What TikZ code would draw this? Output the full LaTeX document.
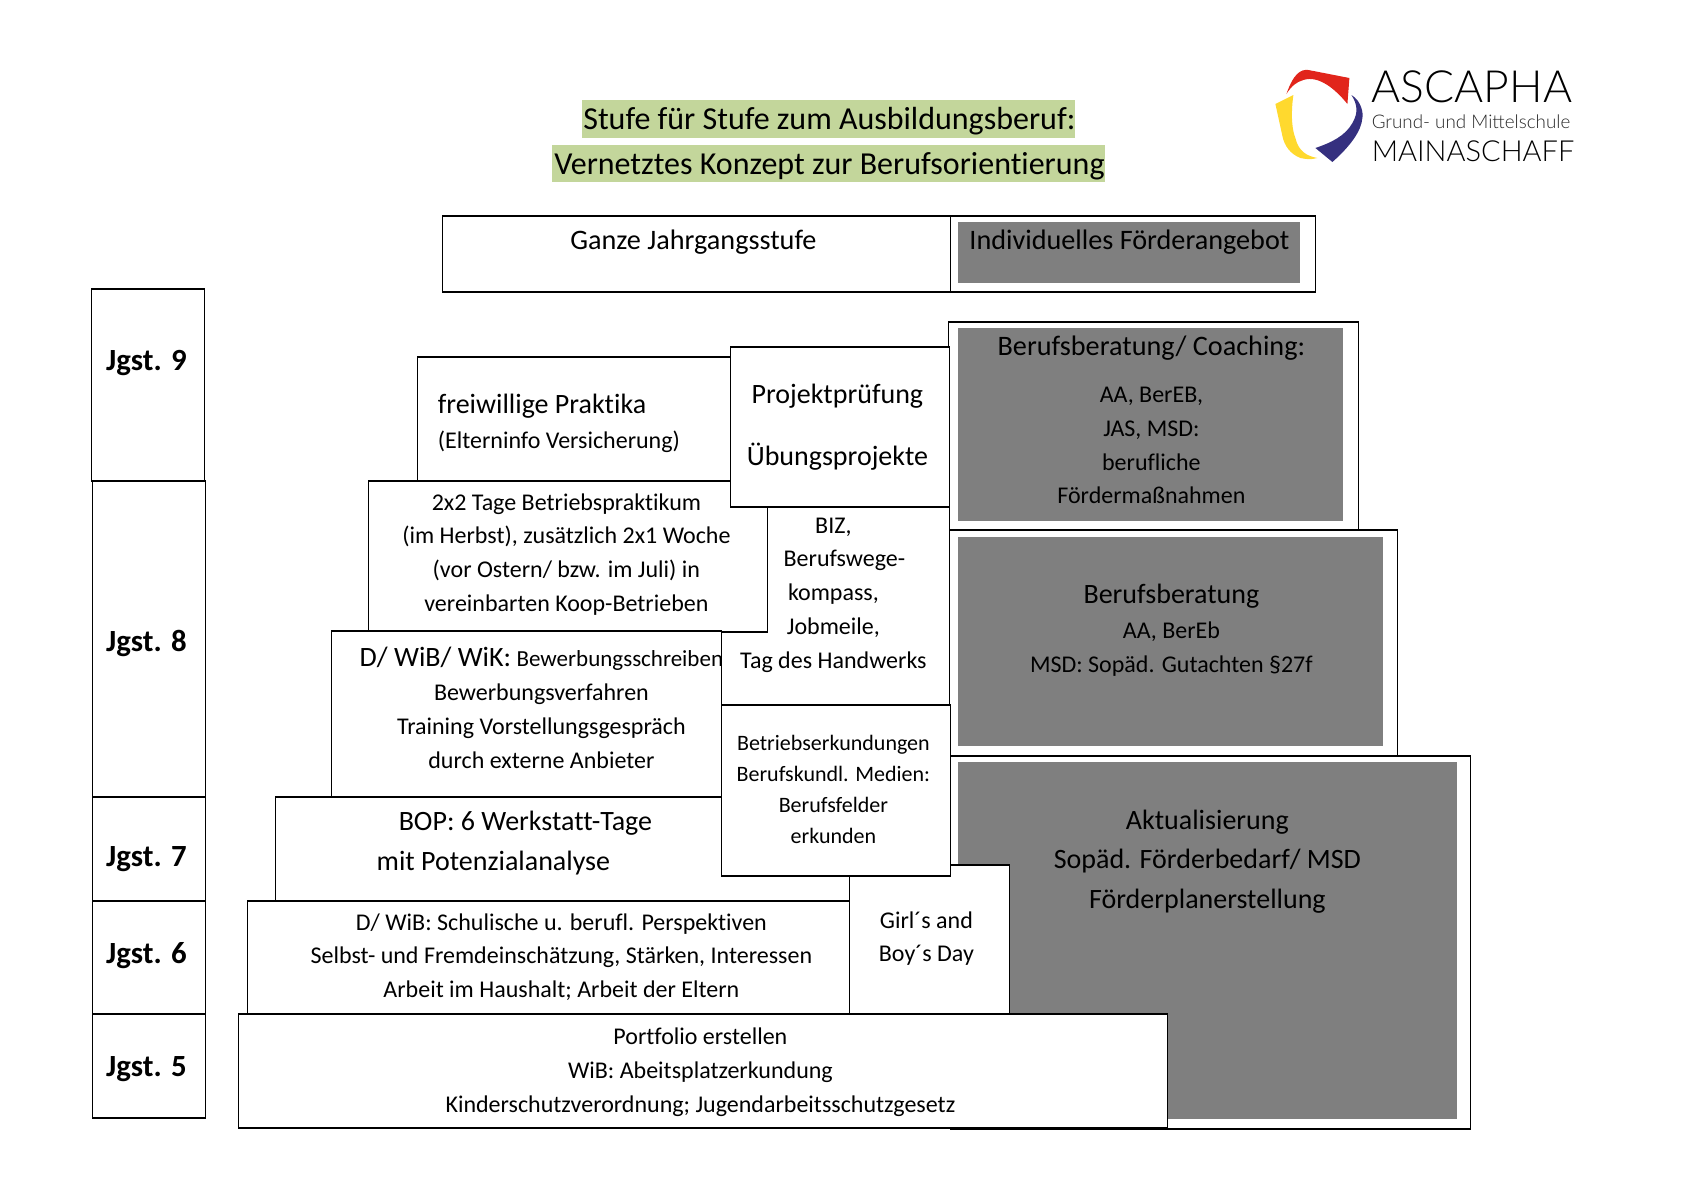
\documentclass[tikz,border=0pt]{standalone}
\usepackage{fontspec}
\setmainfont[Ligatures=NoCommon]{Carlito}
\newfontfamily\logofont{Lato Light}
\definecolor{titlegreen}{HTML}{C3D69B}
\definecolor{boxgray}{HTML}{7F7F7F}
\definecolor{logored}{HTML}{E1251B}
\definecolor{logoyellow}{HTML}{FFD92E}
\definecolor{logoblue}{HTML}{35307F}
\tikzset{
	stufe/.style={draw=black, fill=white, line width=0.9pt},
	grau/.style={fill=boxgray},
	klein/.style={align=center, inner sep=0pt, font=\fontsize{12}{16.9}\selectfont},
	winzig/.style={align=center, inner sep=0pt, font=\fontsize{11}{15.5}\selectfont},
	mittel/.style={align=center, inner sep=0pt, font=\fontsize{14}{19.8}\selectfont},
	jgst/.style={inner sep=0pt, font=\fontsize{15.4}{17}\selectfont\bfseries},
	titel/.style={inner sep=0pt, font=\fontsize{16}{18}\selectfont},
	kopf/.style={inner sep=0pt, font=\fontsize{14.1}{16}\selectfont}
}
\begin{document}
\begin{tikzpicture}[x=0.5pt,y=-0.5pt]
	\useasboundingbox (-0.4,-1) rectangle (1682.6,1189);
	% title
	\fill[titlegreen] (582,99) rectangle (1075,137);
	\fill[titlegreen] (552,144) rectangle (1105,181);
	\node[titel] (titelA) at (829,120) {Stufe für Stufe zum Ausbildungsberuf:};
	\node[titel] (titelB) at (829,165) {Vernetztes Konzept zur Berufsorientierung};
	% logo
	\fill[logored] (1286,93) .. controls (1293,73) and (1300,68) .. (1308,69) -- (1349,77) -- (1347,103) .. controls (1335,88) and (1318,74) .. (1303,79) .. controls (1296,81) and (1291,85) .. (1286,93) -- cycle;
	\fill[logoyellow] (1275,103) -- (1293,94) .. controls (1290,115) and (1292,130) .. (1295,137) .. controls (1298,150) and (1306,155) .. (1317,157) .. controls (1310,159) and (1305,158) .. (1300,157) .. controls (1290,153) and (1284,145) .. (1282,135) -- cycle;
	\fill[logoblue] (1351,94) .. controls (1361,100) and (1363,112) .. (1362,117) .. controls (1361,130) and (1350,145) .. (1332,161) -- (1315,147) .. controls (1330,142) and (1345,135) .. (1352,122) .. controls (1358,112) and (1357,103) .. (1351,94) -- cycle;
	\node[anchor=base west, inner sep=0pt, font=\logofont\fontsize{22.2}{24}\selectfont] (logoA) at (1371,101) {ASCAPHA};
	\node[anchor=base west, inner sep=0pt, font=\logofont\fontsize{9.4}{12}\selectfont, text=black!85] (logoB) at (1371,127) {Grund- und Mittelschule};
	\node[anchor=base west, inner sep=0pt, font=\logofont\fontsize{14.5}{16}\selectfont] (logoC) at (1371,160) {MAINASCHAFF};
	% legend
	\draw[stufe] (442,215) rectangle (950,291);
	\draw[stufe] (950,215) rectangle (1315,291);
	\fill[grau] (958,221) rectangle (1300,282);
	\node[kopf] (ganze) at (693,241) {Ganze Jahrgangsstufe};
	\node[kopf] (indiv) at (1129,241) {Individuelles Förderangebot};
	% year column
	\draw[stufe] (91,288) rectangle (204,480);
	\draw[stufe] (92,480) rectangle (205,796);
	\draw[stufe] (92,796) rectangle (205,900);
	\draw[stufe] (92,900) rectangle (205,1013);
	\draw[stufe] (92,1013) rectangle (205,1117);
	\node[jgst] (jgstN) at (146,362) {Jgst. 9};
	\node[jgst] (jgstA) at (146,642) {Jgst. 8};
	\node[jgst] (jgstS) at (146,858) {Jgst. 7};
	\node[jgst] (jgstX) at (146,955) {Jgst. 6};
	\node[jgst] (jgstF) at (146,1068) {Jgst. 5};
	% right side
	\draw[stufe] (948,321) rectangle (1358,529);
	\fill[grau] (958,327) rectangle (1343,520);
	\draw[stufe] (948,529) rectangle (1397,755);
	\fill[grau] (958,536) rectangle (1383,745);
	\draw[stufe] (950,755) rectangle (1470,1128);
	\fill[grau] (958,761) rectangle (1457,1118);
	\node[kopf] (coach) at (1151,347) {Berufsberatung/ Coaching:};
	\node[klein] (coachB) at (1151,444.5) {AA, BerEB,\\JAS, MSD:\\berufliche\\Fördermaßnahmen};
	\node[mittel] (berat) at (1171,595) {Berufsberatung};
	\node[klein] (beratB) at (1171,648) {AA, BerEb\\MSD: Sopäd. Gutachten §27f};
	\node[mittel] (aktu) at (1207,860.5) {Aktualisierung\\Sopäd. Förderbedarf/ MSD\\Förderplanerstellung};
	% stairs
	\draw[stufe] (417,356) rectangle (735,480);
	\node[anchor=west, mittel] (prak) at (437,405) {freiwillige Praktika};
	\node[anchor=west, klein] (eltern) at (437,441) {(Elterninfo Versicherung)};
	\draw[stufe] (721,500) rectangle (949,704);
	\node[klein] (biz) at (833,594) {BIZ,\\\hspace*{11pt}Berufswege-\\kompass,\\Jobmeile,\\Tag des Handwerks};
	\draw[stufe] (368,480) rectangle (767,631);
	\node[klein] (tage) at (566,553.3) {2x2 Tage Betriebspraktikum\\(im Herbst), zusätzlich 2x1 Woche\\(vor Ostern/ bzw. im Juli) in\\vereinbarten Koop-Betrieben};
	\draw[stufe] (730,346) rectangle (949,506);
	\node[mittel] (proj) at (837,395) {Projektprüfung};
	\node[mittel] (uebung) at (837,456) {Übungsprojekte};
	\draw[stufe] (331,630) rectangle (721,796);
	\node[klein] (bewerb) at (541,707) {{\fontsize{14}{16.9}\selectfont D/ WiB/ WiK:} {\fontsize{11.5}{16.9}\selectfont Bewerbungsschreiben}\\Bewerbungsverfahren\\Training Vorstellungsgespräch\\durch externe Anbieter};
	\draw[stufe] (275,796) rectangle (849,900);
	\node[mittel] (bopA) at (525,822) {BOP: 6 Werkstatt-Tage};
	\node[mittel] (bopB) at (493,862) {mit Potenzialanalyse};
	\draw[stufe] (849,864) rectangle (1009,1013);
	\node[klein] (girls) at (926,937.5) {Girl´s and\\Boy´s Day};
	\draw[stufe] (721,704) rectangle (950,875);
	\node[winzig] (betrieb) at (833,788) {Betriebserkundungen\\Berufskundl. Medien:\\Berufsfelder\\erkunden};
	\draw[stufe] (247,900) rectangle (849,1013);
	\node[klein] (persp) at (561,956) {D/ WiB: Schulische u. berufl. Perspektiven\\Selbst- und Fremdeinschätzung, Stärken, Interessen\\Arbeit im Haushalt; Arbeit der Eltern};
	\draw[stufe] (238,1013) rectangle (1167,1127);
	\node[klein] (portf) at (700,1071) {Portfolio erstellen\\WiB: Abeitsplatzerkundung\\Kinderschutzverordnung; Jugendarbeitsschutzgesetz};
\end{tikzpicture}
\end{document}
